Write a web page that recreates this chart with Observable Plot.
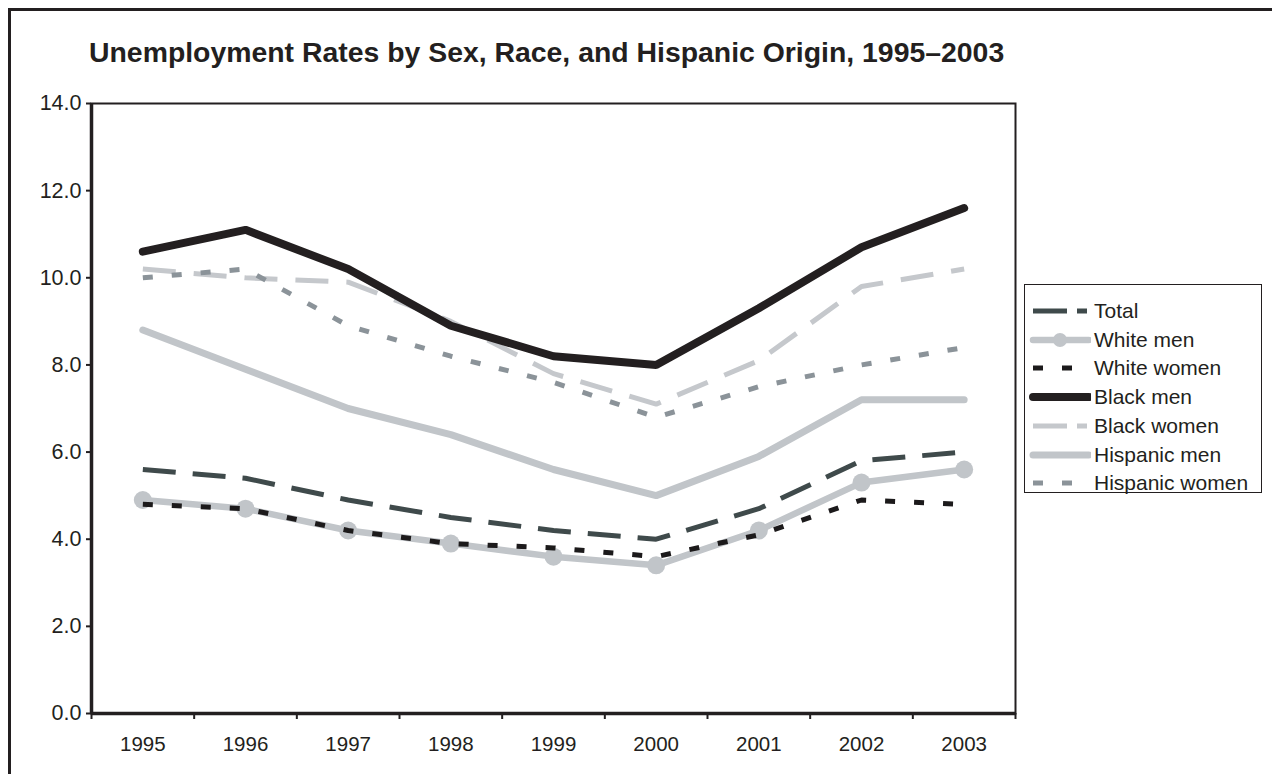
<!DOCTYPE html>
<html><head><meta charset="utf-8">
<script src="https://cdn.jsdelivr.net/npm/d3@7"></script>
<script src="https://cdn.jsdelivr.net/npm/@observablehq/plot@0.6"></script>
<style>
body{margin:0;background:#fff;font-family:Arial,"Liberation Sans",sans-serif;}
#wrap{position:relative;width:1272px;height:774px;overflow:hidden;background:#fff;}
#frame{position:absolute;left:8px;top:8px;width:1300px;height:800px;border-left:3.5px solid #231f20;border-top:3.5px solid #231f20;}
#title{position:absolute;left:89px;top:36px;font-weight:bold;font-size:28.4px;color:#231f20;white-space:nowrap;}
#chart{position:absolute;left:0;top:80px;}
#legend{position:absolute;left:1024px;top:284px;width:238px;height:209px;border:1.5px solid #231f20;box-sizing:border-box;background:#fff;}
.row{position:absolute;left:4px;height:28px;display:flex;align-items:center;font-size:21px;color:#231f20;white-space:nowrap;}
.row svg{margin-right:3px;}
</style>
</head><body>
<div id="wrap">
  <div id="frame"></div>
  <div id="title">Unemployment Rates by Sex, Race, and Hispanic Origin, 1995–2003</div>
  <div id="chart"></div>
  <div id="legend"></div>
</div>
<script>
const years = [1995, 1996, 1997, 1998, 1999, 2000, 2001, 2002, 2003];
const total         = [5.6, 5.4, 4.9, 4.5, 4.2, 4.0, 4.7, 5.8, 6.0];
const whiteMen      = [4.9, 4.7, 4.2, 3.9, 3.6, 3.4, 4.2, 5.3, 5.6];
const whiteWomen    = [4.8, 4.7, 4.2, 3.9, 3.8, 3.6, 4.1, 4.9, 4.8];
const blackMen      = [10.6, 11.1, 10.2, 8.9, 8.2, 8.0, 9.3, 10.7, 11.6];
const blackWomen    = [10.2, 10.0, 9.9, 9.0, 7.8, 7.1, 8.1, 9.8, 10.2];
const hispanicMen   = [8.8, 7.9, 7.0, 6.4, 5.6, 5.0, 5.9, 7.2, 7.2];
const hispanicWomen = [10.0, 10.2, 8.9, 8.2, 7.6, 6.8, 7.5, 8.0, 8.4];
const yTicks = [0, 2, 4, 6, 8, 10, 12, 14];
const seriesNames = ["Total", "White men", "White women", "Black men", "Black women", "Hispanic men", "Hispanic women"];
const seriesValues = [total, whiteMen, whiteWomen, blackMen, blackWomen, hispanicMen, hispanicWomen];

const styles = {
  "Total":          {stroke: "#3f4a4b", w: 5,   dash: "33,17", legendDash: "34,10,10,20", cap: "butt"},
  "White men":      {stroke: "#c1c5c9", w: 6.5, dash: null,    cap: "round", dot: true},
  "White women":    {stroke: "#1c1a1b", w: 5,   dash: "10,19", legendDash: "10,19", cap: "butt"},
  "Black men":      {stroke: "#231f20", w: 8,   dash: null,    cap: "round"},
  "Black women":    {stroke: "#c5c8cc", w: 5,   dash: "33,18", legendDash: "34,10,10,20", cap: "butt"},
  "Hispanic men":   {stroke: "#c1c5c9", w: 7,   dash: null,    cap: "round"},
  "Hispanic women": {stroke: "#8b9399", w: 5,   dash: "10,19", legendDash: "10,19", cap: "butt"}
};
const drawOrder = ["Hispanic men", "White men", "Black women", "Hispanic women", "Total", "White women", "Black men"];

const rows = seriesNames.flatMap((s, i) => years.map((y, j) => ({series: s, year: y, value: seriesValues[i][j]})));
const xDomain = [years[0] - 0.5, years[years.length - 1] + 0.5];
const bandEdges = d3.range(xDomain[0], xDomain[1] + 0.01, 1);

const lineMarks = [];
for (const s of drawOrder) {
  const st = styles[s];
  const data = rows.filter(d => d.series === s);
  lineMarks.push(Plot.line(data, {
    x: "year", y: "value", stroke: st.stroke, strokeWidth: st.w,
    strokeDasharray: st.dash || undefined, strokeLinecap: st.cap, strokeLinejoin: "miter"
  }));
  if (st.dot) lineMarks.push(Plot.dot(data, {x: "year", y: "value", r: 9, fill: st.stroke, stroke: "none"}));
}

const chart = Plot.plot({
  width: 1272, height: 694,
  marginLeft: 91, marginRight: 257, marginTop: 23, marginBottom: 61,
  style: {fontFamily: "Arial, 'Liberation Sans', sans-serif", color: "#231f20", background: "transparent"},
  x: {domain: xDomain, label: null},
  y: {domain: [0, 14], label: null},
  marks: [
    Plot.frame({stroke: "#231f20", strokeWidth: 2}),
    ...lineMarks,
    Plot.axisY({ticks: yTicks, tickFormat: d => d.toFixed(1), tickSize: 5, tickPadding: 5, fontSize: 21.5, strokeWidth: 2}),
    Plot.axisX({ticks: bandEdges, tickFormat: () => "", tickSize: 6, strokeWidth: 2}),
    Plot.axisX({ticks: years, tickFormat: d => String(d), tickSize: 0, tickPadding: 23, fontSize: 20.5}),
    Plot.ruleX([xDomain[0]], {stroke: "#231f20", strokeWidth: 3.5}),
    Plot.ruleY([0], {stroke: "#231f20", strokeWidth: 3.5})
  ]
});
document.getElementById("chart").appendChild(chart);

// legend
const legend = document.getElementById("legend");
seriesNames.forEach((s, i) => {
  const st = styles[s];
  const row = document.createElement("div");
  row.className = "row";
  row.style.top = (12 + i * 28.7) + "px";
  const ns = "http://www.w3.org/2000/svg";
  const sv = document.createElementNS(ns, "svg");
  sv.setAttribute("width", 62); sv.setAttribute("height", 20);
  const ln = document.createElementNS(ns, "line");
  ln.setAttribute("x1", 4); ln.setAttribute("x2", 60); ln.setAttribute("y1", 10); ln.setAttribute("y2", 10);
  ln.setAttribute("stroke", st.stroke); ln.setAttribute("stroke-width", st.w);
  ln.setAttribute("stroke-linecap", st.cap);
  if (st.legendDash) ln.setAttribute("stroke-dasharray", st.legendDash);
  sv.appendChild(ln);
  if (st.dot) {
    const c = document.createElementNS(ns, "circle");
    c.setAttribute("cx", 31); c.setAttribute("cy", 10); c.setAttribute("r", 7); c.setAttribute("fill", st.stroke);
    sv.appendChild(c);
  }
  row.appendChild(sv);
  const t = document.createElement("span");
  t.textContent = s;
  row.appendChild(t);
  legend.appendChild(row);
});
</script>
</body></html>
